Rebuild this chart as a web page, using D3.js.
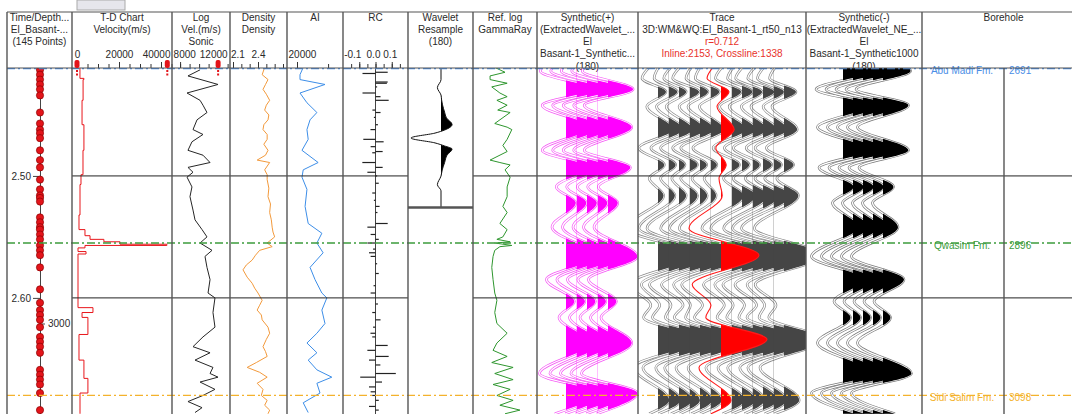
<!doctype html>
<html>
<head>
<meta charset="utf-8">
<script src="https://d3js.org/d3.v7.min.js"></script>
<style>
    body { margin: 0; background: #fff; }
    svg text { font: 10px "Liberation Sans", Arial, sans-serif; fill: #2a2a2a; }
</style>
</head>
<body>
<script>
// ---------- data (times are TWT in ms) ----------
var timeTicks = [2500, 2600];
var depthTicks = [3000];
var depthTickTimes = [2621];

var tdPointTimes = [2413, 2417, 2421, 2425, 2429, 2434, 2448, 2457, 2462, 2465, 2469, 2479, 2487, 2493, 2503,
    2511, 2516, 2518, 2521, 2534, 2538, 2542, 2544, 2548, 2552, 2557, 2561, 2565, 2575, 2593,
    2604, 2610, 2614, 2618, 2624, 2632, 2636, 2640, 2645, 2659, 2663, 2667, 2671, 2678, 2692];

var topNames = ["Abu Madi Fm.", "Qwasim Fm.", "Sidi Salim Fm."];
var topDepths = [2691, 2896, 3098];
var topTimes = [2412, 2555, 2680];
var topColors = ["#4a8ee6", "#3c9c3c", "#f4b22c"];

// T-D chart velocity (m/s)
var velTimes = [2411, 2420, 2421, 2438, 2458, 2479, 2499, 2507, 2532, 2544, 2549, 2552, 2554, 2556, 2557,
    2559, 2562, 2564, 2608, 2612, 2616, 2630, 2651, 2666, 2678, 2695];
var velValues = [1400, 3300, 2900, 2400, 3300, 2850, 1900, 1430, 950, 3800, 6200, 12800, 20500, 42800, 3800,
    480, 4300, 480, 7600, 2400, 5200, 950, 3300, 5200, 1430, 1430];
var tdTicks = [0, 5000, 10000, 15000, 20000, 25000, 30000, 35000, 40000, 45000];
var tdLabels = [0, 20000, 40000];
var tdHandles = [0, 43000];

// sonic velocity
var sonicTimes = [2413, 2418, 2425, 2432, 2438, 2442, 2448, 2454, 2462, 2466, 2472, 2479, 2483, 2489, 2493,
    2497, 2501, 2509, 2517, 2528, 2536, 2544, 2550, 2555, 2561, 2566, 2575, 2585, 2596, 2600,
    2612, 2624, 2632, 2640, 2645, 2651, 2657, 2662, 2665, 2669, 2675, 2680, 2685, 2690, 2694];
var sonicValues = [10100, 8830, 11990, 8730, 10100, 10410, 10830, 9780, 9360, 10410, 9250, 8830, 10410, 11150, 8830,
    9360, 8730, 9250, 9040, 9360, 9570, 10310, 10830, 10100, 11360, 10620, 10830, 11150, 10940, 11670,
    11460, 11670, 10410, 9360, 11150, 9570, 11460, 11150, 11990, 10100, 11670, 10410, 8830, 10310, 9570];
var sonicTicks = [8000, 9000, 10000, 11000, 12000, 13000];
var sonicLabels = [8000, 12000];
var sonicHandles = [12000];

// density
var rhoTimes = [2411, 2417, 2421, 2425, 2429, 2433, 2438, 2442, 2446, 2450, 2454, 2458, 2462, 2466, 2470,
    2474, 2479, 2483, 2487, 2489, 2495, 2499, 2503, 2510, 2517, 2523, 2530, 2536, 2542, 2546,
    2550, 2555, 2558, 2561, 2565, 2569, 2573, 2577, 2583, 2588, 2592, 2596, 2602, 2606, 2610,
    2614, 2618, 2624, 2629, 2634, 2640, 2644, 2648, 2653, 2657, 2661, 2665, 2670, 2675, 2680,
    2684, 2688, 2692, 2695];
var rhoValues = [2.48, 2.45, 2.52, 2.49, 2.46, 2.50, 2.54, 2.50, 2.48, 2.53, 2.52, 2.47, 2.46, 2.51, 2.51,
    2.47, 2.52, 2.49, 2.39, 2.54, 2.48, 2.51, 2.51, 2.53, 2.52, 2.55, 2.54, 2.56, 2.57, 2.58,
    2.60, 2.51, 2.57, 2.42, 2.37, 2.33, 2.26, 2.22, 2.27, 2.33, 2.36, 2.40, 2.45, 2.42, 2.39,
    2.44, 2.45, 2.52, 2.54, 2.50, 2.46, 2.49, 2.51, 2.38, 2.27, 2.42, 2.51, 2.39, 2.46, 2.44,
    2.51, 2.48, 2.54, 2.52];
var rhoTicks = [2.1, 2.2, 2.3, 2.4, 2.5, 2.6, 2.7];
var rhoLabels = [2.1, 2.4];

// acoustic impedance
var aiTimes = [2411, 2417, 2421, 2425, 2432, 2440, 2448, 2454, 2462, 2470, 2479, 2489, 2495, 2501, 2511,
    2525, 2539, 2547, 2555, 2563, 2575, 2585, 2596, 2600, 2610, 2621, 2629, 2637, 2645, 2651,
    2659, 2665, 2670, 2678, 2686, 2694];
var aiValues = [21000, 20480, 20480, 24500, 20480, 21600, 23200, 22100, 21600, 21800, 20800, 23400, 21000, 20800, 21600,
    21300, 21800, 24000, 23200, 24200, 22100, 22900, 24000, 24800, 24000, 24500, 23200, 21600, 23200, 21800,
    23200, 25600, 23200, 23700, 21000, 21800];
var aiTicks = [20000, 25000];
var aiLabels = [20000];

// reflection coefficients
var rcTimes = [2415, 2416, 2423, 2424, 2427, 2432, 2435, 2438, 2446, 2448, 2452, 2458, 2462, 2470, 2472,
    2476, 2480, 2481, 2489, 2493, 2497, 2500, 2506, 2514, 2520, 2525, 2530, 2539, 2542, 2548,
    2552, 2555, 2560, 2563, 2566, 2572, 2580, 2590, 2596, 2605, 2612, 2618, 2624, 2629, 2632,
    2639, 2643, 2648, 2651, 2655, 2662, 2665, 2669, 2673, 2677, 2680, 2684, 2689, 2692];
var rcValues = [0.075, -0.08, 0.075, 0.07, 0.01, -0.08, 0.031, 0.081, -0.019, 0.031, -0.01, 0.015, -0.031, -0.075, 0.05,
    -0.03, 0.044, -0.02, -0.081, 0.044, -0.05, 0.01, 0.02, -0.02, -0.01, 0.025, 0.012, 0.075, -0.05, -0.03,
    0.02, -0.05, -0.015, -0.04, -0.03, 0.01, 0.02, -0.012, -0.03, 0.015, -0.02, 0.031, -0.015, -0.031, -0.02,
    0.075, -0.05, 0.081, -0.04, 0.03, 0.125, -0.094, 0.04, -0.04, -0.03, -0.02, 0.02, -0.04, 0.02];
var rcTicks = [-0.15, -0.1, -0.05, 0, 0.05, 0.1, 0.15];
var rcLabels = [-0.1, 0, 0.1];

// extracted wavelet (ms relative to centre, normalised amplitude)
var waveletMs = [-57, -47.5, -41, -35, -31, -27, -21, -16.4, -11, -6.5, -4, 0, 4, 6.5, 9, 14, 20, 26, 31, 38, 43, 57];
var waveletAmp = [0, 0, -0.12, 0, 0.02, 0.05, 0.12, 0.18, 0.37, 0.12, -0.2, -1.0, -0.2, 0.12, 0.37, 0.2, 0.12, 0.04, 0, -0.12, 0, 0];

// gamma ray
var grTimes = [2411, 2415, 2418, 2421, 2424, 2427, 2432, 2435, 2438, 2442, 2446, 2448, 2457, 2460, 2462,
    2470, 2475, 2480, 2487, 2489, 2491, 2495, 2501, 2509, 2517, 2525, 2530, 2539, 2544, 2550,
    2552, 2554, 2555, 2557, 2558, 2561, 2566, 2575, 2585, 2596, 2602, 2612, 2621, 2629, 2637,
    2643, 2648, 2653, 2657, 2662, 2667, 2671, 2675, 2680, 2684, 2688, 2692, 2695];
var grValues = [51, 75, 40, 40, 80, 44, 63, 80, 56, 80, 58, 87, 51, 80, 91,
    80, 70, 80, 40, 63, 87, 75, 87, 80, 80, 70, 80, 63, 80, 70,
    56, 87, 51, 91, 63, 51, 47, 44, 47, 51, 56, 51, 56, 80, 56,
    47, 80, 44, 94, 51, 94, 47, 87, 56, 94, 63, 110, 75];

// synthetic seismogram (normalised amplitude at peaks / troughs)
var synTimes = [2411, 2414, 2429, 2442, 2460, 2479, 2493, 2509, 2522, 2542, 2566, 2585, 2603, 2616, 2637, 2662, 2678, 2695];
var synAmps = [-0.85, -0.92, 0.9, -0.85, 0.85, -0.85, 0.8, -0.35, 0.35, -0.5, 1.05, -0.7, 0.3, -0.25, 0.85, -0.95, 1.05, -0.4];

// seismic traces around the well (13 traces, well trace is index 6)
var trcTimes = [2411, 2420, 2431, 2443, 2462, 2477, 2491, 2502, 2516, 2543, 2565, 2589, 2606, 2616, 2634, 2657, 2684, 2695];
var trcAmps = [
    [-0.22, -0.40, 0.20, -0.28, 0.38, -0.48, 0.16, -0.22, 0.14, -0.78, 0.92, -0.72, -0.18, -0.36, 1.02, -0.60, 0.28, -0.22],
    [-0.25, -0.36, 0.22, -0.30, 0.36, -0.44, 0.18, -0.20, 0.16, -0.74, 0.95, -0.68, -0.22, -0.40, 0.98, -0.64, 0.30, -0.25],
    [-0.20, -0.38, 0.18, -0.32, 0.34, -0.46, 0.15, -0.18, 0.18, -0.80, 0.88, -0.74, -0.20, -0.34, 1.05, -0.58, 0.32, -0.20],
    [-0.24, -0.42, 0.24, -0.26, 0.37, -0.42, 0.20, -0.22, 0.20, -0.72, 0.93, -0.70, -0.16, -0.38, 1.00, -0.62, 0.26, -0.24],
    [-0.22, -0.35, 0.20, -0.30, 0.35, -0.48, 0.17, -0.20, 0.18, -0.76, 0.96, -0.66, -0.24, -0.36, 1.04, -0.60, 0.30, -0.22],
    [-0.26, -0.38, 0.22, -0.28, 0.33, -0.44, 0.16, -0.16, 0.14, -0.78, 0.90, -0.72, -0.20, -0.40, 0.98, -0.56, 0.28, -0.26],
    [-0.20, -0.35, 0.20, -0.10, 0.33, -0.13, 0.13, -0.05, 0.03, -0.80, 0.95, -0.72, -0.25, -0.38, 1.15, -0.55, 0.25, -0.25],
    [-0.24, -0.40, 0.24, -0.30, 0.36, -0.46, 0.20, -0.20, 0.30, -0.74, 0.97, -0.70, -0.18, -0.36, 1.02, -0.64, 0.32, -0.22],
    [-0.22, -0.36, 0.26, -0.32, 0.34, -0.44, 0.18, -0.22, 0.34, -0.78, 0.94, -0.68, -0.22, -0.38, 1.00, -0.60, 0.34, -0.24],
    [-0.25, -0.42, 0.24, -0.28, 0.35, -0.48, 0.18, -0.18, 0.38, -0.72, 0.98, -0.74, -0.20, -0.34, 1.05, -0.62, 0.30, -0.20],
    [-0.20, -0.38, 0.28, -0.30, 0.33, -0.42, 0.22, -0.20, 0.40, -0.76, 0.92, -0.70, -0.16, -0.40, 0.98, -0.58, 0.36, -0.26],
    [-0.24, -0.40, 0.26, -0.26, 0.34, -0.46, 0.20, -0.22, 0.42, -0.80, 0.96, -0.66, -0.22, -0.36, 1.02, -0.64, 0.32, -0.22],
    [-0.22, -0.36, 0.30, -0.30, 0.33, -0.44, 0.24, -0.18, 0.36, -0.74, 0.94, -0.72, -0.20, -0.38, 1.00, -0.60, 0.38, -0.24]
];
var wellTrace = 6;

var headers = [
    ["Time/Depth...", "El_Basant-...", "(145 Points)"],
    ["T-D Chart", "Velocity(m/s)"],
    ["Log", "Vel.(m/s)", "Sonic"],
    ["Density", "Density"],
    ["AI"],
    ["RC"],
    ["Wavelet", "Resample", "(180)"],
    ["Ref. log", "GammaRay"],
    ["Synthetic(+)", "(ExtractedWavelet_...", "El", "Basant-1_Synthetic...", "(180)"],
    ["Trace", "3D:WM&WQ:El_Basant-1_rt50_n13", "r=0.712", "Inline:2153, Crossline:1338"],
    ["Synthetic(-)", "(ExtractedWavelet_NE_...", "El", "Basant-1_Synthetic1000", "(180)"],
    ["Borehole"]
];

// ---------- layout ----------
var width = 1072, height = 414;
var plotTop = 68, plotBottom = 414, headTop = 12;
var edges = [7, 72, 172, 230, 287, 343, 408, 473, 537, 638, 806, 922, 1085];

var svg = d3.select("body").append("svg")
    .attr("width", width)
    .attr("height", height);
var defs = svg.append("defs");

edges.slice(0, -1).forEach(function (x0, i) {
    defs.append("clipPath").attr("id", "col" + i)
        .append("rect")
        .attr("x", x0).attr("y", plotTop)
        .attr("width", edges[i + 1] - x0).attr("height", plotBottom - plotTop);
});

var y = d3.scaleLinear().domain([2411.5, 2695.2]).range([plotTop, plotBottom]);

var tdX = d3.scaleLinear().domain([0, 45000]).range([77, 171.5]);
var sonicX = d3.scaleLinear().domain([7150, 13250]).range([172, 230]);
var rhoX = d3.scaleLinear().domain([2.064, 2.748]).range([230, 287]);
var aiX = d3.scaleLinear().domain([18390, 27400]).range([287, 343]);
var rcX = d3.scaleLinear().domain([-0.2, 0.2]).range([343, 408]);
var grX = d3.scaleLinear().domain([0, 150]).range([473, 537]);
var waveY = d3.scaleLinear().domain([-57, 57]).range([plotTop, 208]);

// little tab above the header
svg.append("rect").attr("x", 77).attr("y", 0).attr("width", 48).attr("height", 10)
    .attr("fill", "#e6e6ec").attr("stroke", "#aaa").attr("stroke-width", 1);

// ---------- header text ----------
headers.forEach(function (lines, i) {
    var cx = (edges[i] + edges[i + 1]) / 2;
    lines.forEach(function (s, j) {
        var t = svg.append("text")
            .attr("x", cx).attr("y", 20.5 + j * 12.3)
            .attr("text-anchor", "middle")
            .text(s);
        if (i === 9 && j >= 2) t.style("fill", "#e8322b");
    });
});

// header scales: minor ticks + labelled ticks; anchor tweaks keep labels inside their track
function headAxis(scale, minor, major, fmt, place) {
    var g1 = svg.append("g").attr("transform", "translate(0," + plotTop + ")").style("color", "#333")
        .call(d3.axisTop(scale).tickValues(minor).tickSize(4).tickFormat(""));
    var g2 = svg.append("g").attr("transform", "translate(0," + plotTop + ")").style("color", "#333")
        .call(d3.axisTop(scale).tickValues(major).tickSize(6).tickPadding(4).tickFormat(fmt));
    g1.select(".domain").remove();
    g2.select(".domain").remove();
    if (place) {
        g2.selectAll(".tick text").each(function (d, i) {
            if (place[i]) d3.select(this).attr("text-anchor", place[i][0]).attr("dx", place[i][1]);
        });
    }
}
headAxis(tdX, tdTicks, tdLabels, function (d) { return d; }, [null, null, ["end", 9]]);
headAxis(sonicX, sonicTicks, sonicLabels, function (d) { return d; }, [["start", -7], ["end", 9]]);
headAxis(rhoX, rhoTicks, rhoLabels, function (d) { return d.toFixed(1); }, [["start", -2.5], null]);
headAxis(aiX, aiTicks, aiLabels, function (d) { return d; }, [["start", -9]]);
headAxis(rcX, rcTicks, rcLabels, function (d) { return d.toFixed(1); }, [["middle", -7], ["middle", -2.5], ["middle", -2]]);

// ---------- logs ----------
function logLine(col, times, values, xs, color, curve) {
    svg.append("g").attr("clip-path", "url(#col" + col + ")")
        .append("path")
        .datum(times.map(function (t, i) { return [xs(values[i]), y(t)]; }))
        .attr("d", d3.line().curve(curve || d3.curveLinear))
        .attr("fill", "none")
        .attr("stroke", color)
        .attr("stroke-width", 1);
}
logLine(1, velTimes, velValues, tdX, "#e8161b", d3.curveStepBefore);
logLine(2, sonicTimes, sonicValues, sonicX, "#262626");
logLine(3, rhoTimes, rhoValues, rhoX, "#f39a3c");
logLine(4, aiTimes, aiValues, aiX, "#3d8ee8");
logLine(7, grTimes, grValues, grX, "#2e962e");

// RC spikes
var rcG = svg.append("g").attr("clip-path", "url(#col5)");
rcG.append("line").attr("x1", rcX(0)).attr("x2", rcX(0)).attr("y1", plotTop).attr("y2", plotBottom)
    .attr("stroke", "#444").attr("stroke-width", 1);
rcG.selectAll("line.rc").data(rcTimes).enter().append("line")
    .attr("class", "rc")
    .attr("x1", rcX(0))
    .attr("x2", function (d, i) { return rcX(rcValues[i]); })
    .attr("y1", function (d) { return y(d); })
    .attr("y2", function (d) { return y(d); })
    .attr("stroke", "#222").attr("stroke-width", 1.2);

// ---------- wiggle traces ----------
var clipId = 0;
var curveLine = d3.line().curve(d3.curveMonotoneY);
function wiggle(lineLayer, fillLayer, times, amps, tScale, base, gain, st) {
    var pts = times.map(function (t, i) { return [base + amps[i] * gain, tScale(t)]; });
    var id = "w" + (clipId++);
    defs.append("clipPath").attr("id", id).append("rect")
        .attr("x", base).attr("y", 0).attr("width", 400).attr("height", 500);
    var d = curveLine(pts);
    fillLayer.append("path")
        .attr("d", d + "L" + base + "," + pts[pts.length - 1][1] + "L" + base + "," + pts[0][1] + "Z")
        .attr("clip-path", "url(#" + id + ")")
        .attr("fill", st.fill);
    if (st.halo) {
        lineLayer.append("path").attr("d", d).attr("fill", "none")
            .attr("stroke", st.stroke).attr("stroke-width", 2.6);
        lineLayer.append("path").attr("d", d).attr("fill", "none")
            .attr("stroke", "#fff").attr("stroke-width", 1.2);
    } else {
        lineLayer.append("path").attr("d", d).attr("fill", "none")
            .attr("stroke", st.stroke).attr("stroke-width", st.width || 1);
    }
}

// wavelet
var wv = svg.append("g").attr("clip-path", "url(#col6)");
var wvFill = wv.append("g"), wvLine = wv.append("g");
wiggle(wvLine, wvFill, waveletMs, waveletAmp, waveY, 441, 30, { fill: "#000", stroke: "#111", width: 1 });
svg.append("line").attr("x1", 408).attr("x2", 473).attr("y1", 207.5).attr("y2", 207.5)
    .attr("stroke", "#555").attr("stroke-width", 2.5);

// synthetic (+)
var synCount = 5;
var sp = svg.append("g").attr("clip-path", "url(#col8)");
var spLine = sp.append("g"), spFill = sp.append("g");
for (var k = 0; k < synCount; k++) {
    wiggle(spLine, spFill, synTimes, synAmps, y, 566 + k * 10.5, 28, { fill: "#ff00ff", stroke: "#f55af5", halo: true });
}

// synthetic (-)
var sn = svg.append("g").attr("clip-path", "url(#col10)");
var snLine = sn.append("g"), snFill = sn.append("g");
for (var k2 = 0; k2 < synCount; k2++) {
    wiggle(snLine, snFill, synTimes, synAmps, y, 843 + k2 * 10, -30, { fill: "#000", stroke: "#7a7a7a", halo: true });
}

// seismic traces
var tr = svg.append("g").attr("clip-path", "url(#col9)");
var trLine = tr.append("g"), trFill = tr.append("g"), trWell = tr.append("g");
trcAmps.forEach(function (amps, k) {
    if (k === wellTrace) return;
    wiggle(trLine, trFill, trcTimes, amps, y, 658 + k * 10.5, 40, { fill: "#454545", stroke: "#8a8a8a", halo: true });
});
wiggle(trWell, trWell, trcTimes, trcAmps[wellTrace], y, 658 + wellTrace * 10.5, 40,
    { fill: "#ff0000", stroke: "#ff1a1a", width: 1.1 });

// ---------- grid ----------
timeTicks.forEach(function (t) {
    [[72, 408], [473, 1072]].forEach(function (seg) {
        svg.append("line").attr("x1", seg[0]).attr("x2", seg[1])
            .attr("y1", y(t)).attr("y2", y(t))
            .attr("stroke", "#222").attr("stroke-width", 1);
    });
});

// ---------- time / depth column ----------
svg.append("g").attr("transform", "translate(40,0)").style("color", "#444")
    .call(d3.axisLeft(y).tickValues(timeTicks).tickSize(7).tickSizeOuter(0).tickPadding(2)
        .tickFormat(function (d) { return (d / 1000).toFixed(2); }));
var dAxis = svg.append("g").attr("transform", "translate(41,0)").style("color", "#444")
    .call(d3.axisRight(y).tickValues(depthTickTimes).tickSize(4).tickPadding(3)
        .tickFormat(function (d, i) { return depthTicks[i]; }));
dAxis.select(".domain").remove();

svg.append("g").attr("clip-path", "url(#col0)")
    .selectAll("circle").data(tdPointTimes).enter().append("circle")
    .attr("cx", 40).attr("cy", function (d) { return y(d); })
    .attr("r", 3.6)
    .attr("fill", "#e3141a").attr("stroke", "#8b0000").attr("stroke-width", 0.7);

// ---------- formation tops ----------
topTimes.forEach(function (t, i) {
    svg.append("line").attr("x1", 7).attr("x2", 1072)
        .attr("y1", y(t)).attr("y2", y(t))
        .attr("stroke", topColors[i]).attr("stroke-width", 1.3)
        .attr("stroke-dasharray", "8,3,2,3");
    svg.append("text").attr("x", 962).attr("y", y(t) + 5.5)
        .attr("text-anchor", "middle").style("fill", topColors[i]).text(topNames[i]);
    svg.append("text").attr("x", 1009).attr("y", y(t) + 5.5)
        .style("fill", topColors[i]).text(topDepths[i]);
});

// ---------- frame ----------
edges.slice(0, -1).forEach(function (x) {
    svg.append("line").attr("x1", x).attr("x2", x).attr("y1", headTop).attr("y2", plotBottom)
        .attr("stroke", "#555").attr("stroke-width", 1.4);
});
svg.append("line").attr("x1", 1004).attr("x2", 1004).attr("y1", plotTop).attr("y2", plotBottom)
    .attr("stroke", "#555").attr("stroke-width", 1.4);
[headTop, plotTop].forEach(function (yy) {
    svg.append("line").attr("x1", 7).attr("x2", 1072).attr("y1", yy).attr("y2", yy)
        .attr("stroke", "#555").attr("stroke-width", 1.2);
});

// red slider handles
function handles(xs, vals) {
    vals.forEach(function (v) {
        svg.append("rect").attr("x", xs(v) - 2.5).attr("y", 60).attr("width", 5).attr("height", 8)
            .attr("rx", 2).attr("fill", "#e3141a");
        svg.append("line").attr("x1", xs(v)).attr("x2", xs(v)).attr("y1", 70).attr("y2", 77)
            .attr("stroke", "#e3141a").attr("stroke-width", 2).attr("stroke-dasharray", "2,1.5");
    });
}
handles(tdX, tdHandles);
handles(sonicX, sonicHandles);
</script>
</body>
</html>
